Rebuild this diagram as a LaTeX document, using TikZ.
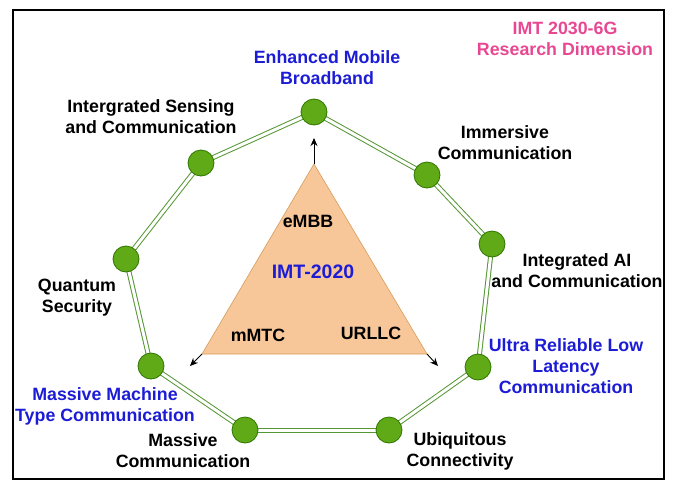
\documentclass[tikz,border=0pt]{standalone}
\usepackage{fontspec}
\setmainfont{Liberation Sans}
\usetikzlibrary{arrows.meta,backgrounds}
\definecolor{imtblue}{RGB}{28,28,214}
\definecolor{imtpink}{RGB}{232,72,146}
\definecolor{dotfill}{RGB}{96,169,23}
\definecolor{dotline}{RGB}{45,118,0}
\definecolor{linkgreen}{RGB}{86,150,52}
\definecolor{trifill}{RGB}{247,199,153}
\definecolor{triline}{RGB}{215,155,90}

\begin{document}
\begin{tikzpicture}[x=1pt, y=-1pt,
		dot/.style={circle, draw=dotline, fill=dotfill, line width=0.8pt, minimum size=26pt, inner sep=0pt},
		link/.style={draw=linkgreen, line width=1pt, double=white, double distance=3pt},
		lbl/.style={align=center, font=\fontsize{17.8}{21}\selectfont\bfseries, inner sep=0pt},
		blbl/.style={lbl, text=imtblue},
		arr/.style={-{Stealth[length=8pt,width=7pt]}, line width=0.9pt}]
		\useasboundingbox (0,0) rectangle (676,482);
		\draw[line width=2.8pt] (13,10) rectangle (664,479);
		\node[dot] (d0) at (314,112) {};
		\node[dot] (d1) at (427,175) {};
		\node[dot] (d2) at (492,244) {};
		\node[dot] (d3) at (478,367) {};
		\node[dot] (d4) at (389,430) {};
		\node[dot] (d5) at (245,430) {};
		\node[dot] (d6) at (151,366) {};
		\node[dot] (d7) at (126,259) {};
		\node[dot] (d8) at (201,163) {};
		\begin{scope}[on background layer]
			\draw[link] (d0.center) -- (d1.center);
			\draw[link] (d1.center) -- (d2.center);
			\draw[link] (d2.center) -- (d3.center);
			\draw[link] (d3.center) -- (d4.center);
			\draw[link] (d4.center) -- (d5.center);
			\draw[link] (d5.center) -- (d6.center);
			\draw[link] (d6.center) -- (d7.center);
			\draw[link] (d7.center) -- (d8.center);
			\draw[link] (d8.center) -- (d0.center);
		\end{scope}
		\node[lbl, text=imtpink] (title) at (565,39) {IMT 2030-6G\\Research Dimension};
		\node[blbl] (embb) at (327,68) {Enhanced Mobile\\Broadband};
		\node[lbl] (isac) at (151,117) {Intergrated Sensing\\and Communication};
		\node[lbl] (imm) at (505,143) {Immersive\\Communication};
		\node[lbl] (aic) at (577,271) {Integrated AI\\and Communication};
		\node[blbl] (urllc) at (566,366) {Ultra Reliable Low\\Latency\\Communication};
		\node[lbl] (ubiq) at (460,451) {Ubiquitous\\Connectivity};
		\node[lbl] (mass) at (183,451) {Massive\\Communication};
		\node[blbl] (mmtc) at (105,406) {Massive Machine\\Type Communication};
		\node[lbl] (qsec) at (77,298) {Quantum\\Security};
		\coordinate (t0) at (314,164);
		\coordinate (t1) at (202,354);
		\coordinate (t2) at (427,354);
		\draw[draw=triline, fill=trifill, line width=0.6pt] (t0) -- (t1) -- (t2) -- cycle;
		\coordinate (a0) at (314,138);
		\coordinate (a1) at (190,366);
		\coordinate (a2) at (438,366);
		\draw[arr] (t0) -- (a0);
		\draw[arr] (t1) -- (a1);
		\draw[arr] (t2) -- (a2);
		\node[lbl] (tembb) at (308,221) {eMBB};
		\node[blbl, font=\fontsize{19.5}{23}\selectfont\bfseries] (timt) at (313,272) {IMT-2020};
		\node[lbl] (tmmtc) at (258,335) {mMTC};
		\node[lbl] (turllc) at (371,333) {URLLC};
	\end{tikzpicture}
\end{document}
